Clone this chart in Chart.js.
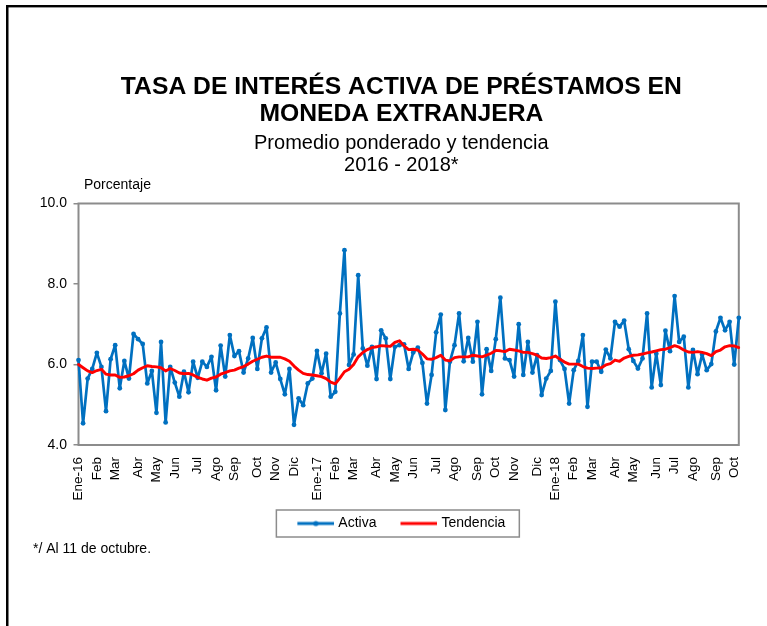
<!DOCTYPE html>
<html>
<head>
<meta charset="utf-8">
<title>Tasa de interés activa en moneda extranjera</title>
<script src="https://cdn.jsdelivr.net/npm/chart.js@4.4.1/dist/chart.umd.min.js"></script>
<style>
  html, body { margin: 0; padding: 0; background: #fff; }
  canvas { display: block; }
</style>
</head>
<body>
<canvas id="grafico" width="767" height="626"></canvas>
<script>
// semanas (jueves) del 7-ene-2016 al 11-oct-2018; etiqueta solo en la primera semana de cada mes
const indicesMes = [0, 4, 8, 13, 17, 21, 26, 30, 34, 39, 43, 47,
  52, 56, 60, 65, 69, 73, 78, 82, 87, 91, 95, 100,
  104, 108, 112, 117, 121, 126, 130, 134, 139, 143];
const nombresMes = ['Ene-16', 'Feb', 'Mar', 'Abr', 'May', 'Jun', 'Jul', 'Ago', 'Sep', 'Oct', 'Nov', 'Dic',
  'Ene-17', 'Feb', 'Mar', 'Abr', 'May', 'Jun', 'Jul', 'Ago', 'Sep', 'Oct', 'Nov', 'Dic',
  'Ene-18', 'Feb', 'Mar', 'Abr', 'May', 'Jun', 'Jul', 'Ago', 'Sep', 'Oct'];

const activa = [
  6.11, 4.54, 5.65, 5.89, 6.29, 5.94, 4.84, 6.13, 6.48, 5.41,
  6.09, 5.65, 6.76, 6.63, 6.51, 5.53, 5.84, 4.80, 6.56, 4.56,
  5.94, 5.55, 5.20, 5.82, 5.31, 6.07, 5.67, 6.07, 5.94, 6.19,
  5.36, 6.47, 5.70, 6.73, 6.21, 6.33, 5.80, 6.15, 6.66, 5.89,
  6.65, 6.92, 5.80, 6.05, 5.64, 5.26, 5.89, 4.50, 5.16, 4.99,
  5.53, 5.65, 6.34, 5.78, 6.27, 5.20, 5.32, 7.27, 8.84, 5.99,
  6.25, 8.22, 6.40, 5.97, 6.44, 5.64, 6.85, 6.65, 5.64, 6.44,
  6.48, 6.50, 5.89, 6.30, 6.42, 6.04, 5.03, 5.74, 6.80, 7.24,
  4.87, 6.07, 6.48, 7.27, 6.08, 6.66, 6.07, 7.06, 5.26, 6.38,
  5.84, 6.63, 7.66, 6.15, 6.11, 5.70, 7.00, 5.74, 6.56, 5.80,
  6.23, 5.24, 5.65, 5.84, 7.56, 6.11, 5.89, 5.03, 5.86, 6.09,
  6.73, 4.95, 6.07, 6.07, 5.82, 6.37, 6.15, 7.06, 6.94, 7.09,
  6.38, 6.09, 5.90, 6.15, 7.27, 5.43, 6.27, 5.49, 6.84, 6.33,
  7.70, 6.56, 6.69, 5.43, 6.36, 5.76, 6.25, 5.86, 6.01, 6.82,
  7.16, 6.85, 7.06, 6.00, 7.16
];

const tendencia = [
  6.00, 5.92, 5.84, 5.80, 5.85, 5.88, 5.76, 5.74, 5.74, 5.68,
  5.69, 5.72, 5.77, 5.86, 5.92, 5.97, 5.95, 5.94, 5.92, 5.84,
  5.90, 5.85, 5.79, 5.77, 5.78, 5.74, 5.68, 5.64, 5.61, 5.66,
  5.69, 5.76, 5.80, 5.84, 5.86, 5.91, 5.95, 6.01, 6.08, 6.13,
  6.18, 6.21, 6.18, 6.18, 6.18, 6.14, 6.08, 5.96, 5.86, 5.78,
  5.75, 5.74, 5.72, 5.70, 5.65, 5.56, 5.52, 5.66, 5.82, 5.88,
  6.00, 6.19, 6.30, 6.37, 6.42, 6.44, 6.47, 6.46, 6.45, 6.55,
  6.59, 6.46, 6.37, 6.38, 6.36, 6.26, 6.14, 6.13, 6.17, 6.23,
  6.11, 6.09, 6.17, 6.19, 6.19, 6.19, 6.23, 6.21, 6.19, 6.23,
  6.28, 6.35, 6.34, 6.32, 6.38, 6.36, 6.34, 6.30, 6.30, 6.27,
  6.23, 6.16, 6.15, 6.17, 6.21, 6.13, 6.06, 6.01, 6.01, 6.01,
  5.95, 5.91, 5.90, 5.91, 5.92, 5.99, 6.02, 6.11, 6.08, 6.16,
  6.20, 6.23, 6.24, 6.26, 6.29, 6.31, 6.34, 6.37, 6.38, 6.42,
  6.47, 6.43, 6.36, 6.31, 6.30, 6.32, 6.30, 6.27, 6.22, 6.32,
  6.36, 6.44, 6.47, 6.46, 6.42
];

const etiquetas = activa.map(() => '');
indicesMes.forEach((idx, i) => { etiquetas[idx] = nombresMes[i]; });

const AZUL = '#0070C0';
const ROJO = '#FF0000';
const GRIS = '#8c8c8c';
const FUENTE = "'Liberation Sans', Arial, sans-serif";

Chart.defaults.font.family = FUENTE;
Chart.defaults.color = '#000';

// muestra de leyenda: linea (con punto para Activa)
function muestraLeyenda(color, conPunto) {
  const c = document.createElement('canvas');
  c.width = 40; c.height = 10;
  const g = c.getContext('2d');
  g.strokeStyle = color;
  g.lineWidth = 3;
  g.beginPath(); g.moveTo(3, 5); g.lineTo(40, 5); g.stroke();
  if (conPunto) {
    g.fillStyle = color;
    g.beginPath(); g.arc(21.5, 5, 2.6, 0, Math.PI * 2); g.fill();
  }
  return c;
}
const muestras = [muestraLeyenda(AZUL, true), muestraLeyenda(ROJO, false)];

const pluginDecoracion = {
  id: 'decoracion',
  afterLayout(chart) {
    // las cajas de los ejes son estrechas a proposito; se amplia su zona de recorte de etiquetas
    chart.scales.y.left = 8;
    chart.scales.x.bottom = chart.height;
  },
  beforeDraw(chart) {
    const { ctx, width, height } = chart;
    ctx.save();
    ctx.fillStyle = '#fff';
    ctx.fillRect(0, 0, width, height);
    ctx.fillStyle = '#000';
    ctx.fillRect(6, 5, width - 6, 2.4);
    ctx.fillRect(6, 5, 2.5, height - 5);
    ctx.restore();
  },
  beforeDatasetsDraw(chart) {
    const { ctx, chartArea } = chart;
    ctx.save();
    ctx.strokeStyle = GRIS;
    ctx.lineWidth = 2;
    ctx.strokeRect(chartArea.left, chartArea.top, chartArea.right - chartArea.left, chartArea.bottom - chartArea.top);
    ctx.restore();
  },
  afterDraw(chart) {
    const { ctx } = chart;
    ctx.save();
    ctx.fillStyle = '#000';
    ctx.font = '14px ' + FUENTE;
    ctx.textBaseline = 'middle';
    ctx.textAlign = 'left';
    ctx.fillText('Porcentaje', 84, 185);
    ctx.fillText('*/ Al 11 de octubre.', 33, 549);

    // recuadro de la leyenda
    const cajas = chart.legend.legendHitBoxes;
    if (cajas && cajas.length) {
      const izq = Math.min(...cajas.map(b => b.left)) - 21;
      const der = Math.max(...cajas.map(b => b.left + b.width)) + 14;
      const cy = cajas[0].top + cajas[0].height / 2;
      ctx.strokeStyle = GRIS;
      ctx.lineWidth = 1.5;
      ctx.strokeRect(izq, cy - 13.5, der - izq, 27);
    }
    ctx.restore();
  }
};

new Chart(document.getElementById('grafico'), {
  type: 'line',
  data: {
    labels: etiquetas,
    datasets: [
      {
        label: 'Activa',
        data: activa,
        borderColor: AZUL,
        backgroundColor: AZUL,
        borderWidth: 2.7,
        borderJoinStyle: 'round',
        borderCapStyle: 'round',
        pointRadius: 2.4,
        pointBorderWidth: 0,
        pointBackgroundColor: AZUL,
        tension: 0,
        order: 1
      },
      {
        label: 'Tendencia',
        data: tendencia,
        borderColor: ROJO,
        backgroundColor: ROJO,
        borderWidth: 2.9,
        borderJoinStyle: 'round',
        borderCapStyle: 'round',
        pointRadius: 0,
        tension: 0,
        order: 0
      }
    ]
  },
  plugins: [pluginDecoracion],
  options: {
    responsive: false,
    animation: false,
    layout: { autoPadding: false, padding: { top: 0, left: 50, right: 14.3, bottom: 85.5 } },
    plugins: {
      title: {
        display: true,
        text: ['TASA DE INTERÉS ACTIVA DE PRÉSTAMOS EN', 'MONEDA EXTRANJERA'],
        color: '#000',
        font: { size: 24.7, weight: 'bold', lineHeight: 1.093 },
        padding: { top: 74, bottom: 0 }
      },
      subtitle: {
        display: true,
        text: ['Promedio ponderado y tendencia', '2016 - 2018*'],
        color: '#000',
        font: { size: 20, weight: 'normal', lineHeight: 1.1 },
        padding: { top: 4, bottom: 27.5 }
      },
      legend: {
        position: 'bottom',
        labels: {
          color: '#000',
          font: { size: 14 },
          usePointStyle: true,
          pointStyleWidth: 34,
          padding: 24,
          sort: (a, b) => a.datasetIndex - b.datasetIndex,
          generateLabels(chart) {
            const items = Chart.defaults.plugins.legend.labels.generateLabels(chart);
            items.forEach(it => { it.pointStyle = muestras[it.datasetIndex]; });
            return items;
          }
        }
      },
      tooltip: { enabled: false }
    },
    scales: {
      x: {
        offset: false,
        grid: { display: false, drawTicks: false },
        border: { display: false },
        ticks: {
          autoSkip: false,
          maxRotation: 90,
          minRotation: 90,
          padding: 12,
          color: '#000',
          font: { size: 13.5 }
        },
        afterFit(scale) { scale.height = 47.5; }
      },
      y: {
        min: 4,
        max: 10,
        grid: { drawOnChartArea: false, drawTicks: true, tickLength: 5, color: GRIS, lineWidth: 1.5 },
        border: { display: false },
        ticks: {
          stepSize: 2,
          padding: 6.5,
          color: '#000',
          font: { size: 14 },
          callback: v => v.toFixed(1)
        },
        afterFit(scale) { scale.width = 28.5; }
      }
    }
  }
});
</script>
</body>
</html>
